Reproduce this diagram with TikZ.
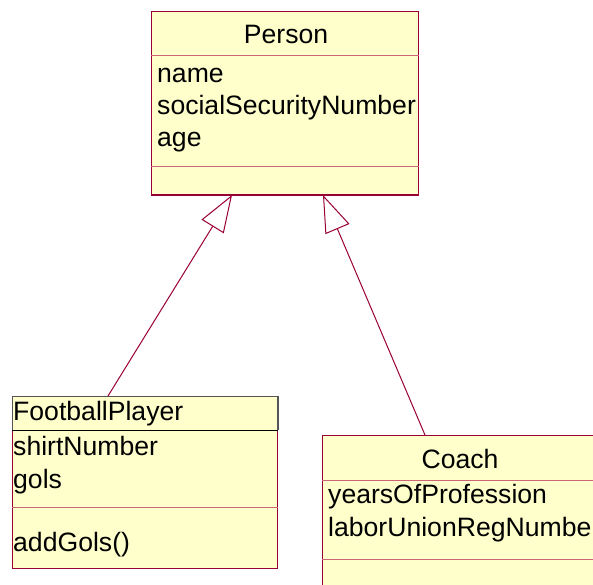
\documentclass[tikz,border=0pt]{standalone}
\usepackage{fontspec}
\setmainfont{Liberation Sans}
\usetikzlibrary{arrows.meta,calc}
\definecolor{umlborder}{HTML}{990033}
\definecolor{umlfill}{HTML}{FFFFCC}
\definecolor{umlsep}{HTML}{CC6677}
\definecolor{umlfocus}{HTML}{555555}

\begin{document}
\begin{tikzpicture}[x=1pt,y=-1pt,
  classbox/.style={draw=umlborder, fill=umlfill, line width=1pt, rectangle,
                   inner sep=0pt, anchor=north west},
  sepline/.style={draw=umlsep, line width=1pt},
  member/.style={anchor=base west, inner sep=0pt, font=\fontsize{26.6}{31}\selectfont},
  classtitle/.style={anchor=base, inner sep=0pt, font=\fontsize{26.6}{31}\selectfont},
  generalization/.style={draw=umlborder, line width=1pt,
                   -{Triangle[open, length=37pt, width=26pt, fill=white]}}]
\useasboundingbox (0,0) rectangle (593,584);
\clip (0,0) rectangle (593,584);

% --- Person -------------------------------------------------------
\node[classbox, minimum width=267pt, minimum height=183pt] (person) at (151,11) {};
\draw[sepline] ($(person.north west)+(0,44)$) -- ($(person.north east)+(0,44)$);
\draw[sepline] ($(person.north west)+(0,155.7)$) -- ($(person.north east)+(0,155.7)$);
\draw[umlborder, line width=2pt] (person.south west) -- (person.south east);
\node[classtitle] (personTitle) at (286,43.3) {Person};
\node[member] (pName) at (157,82.7) {name};
\node[member] (pSsn)  at (157,114.3) {socialSecurityNumber};
\node[member] (pAge)  at (157,146) {age};

% --- FootballPlayer -----------------------------------------------
\node[classbox, minimum width=265pt, minimum height=172pt] (fp) at (12,396) {};
\draw[umlfocus, line width=1pt] (fp.north west) rectangle ($(fp.north west)+(265.7,34)$);
\draw[umlfocus, line width=2pt] ($(fp.north west)+(265.7,0)$) -- ($(fp.north west)+(265.7,34)$);
\draw[black, line width=1pt] ($(fp.north west)+(0,34.5)$) -- ($(fp.north east)+(0,34.5)$);
\draw[sepline] ($(fp.north west)+(0,111)$) -- ($(fp.north east)+(0,111)$);
\node[member] (fpTitle) at (13,420) {FootballPlayer};
\node[member] (fpShirt) at (13,455) {shirtNumber};
\node[member] (fpGols)  at (13,488) {gols};
\node[member] (fpAdd)   at (13,551.7) {addGols()};

% --- Coach --------------------------------------------------------
\node[classbox, minimum width=276pt, minimum height=200pt] (coach) at (322,435) {};
\draw[sepline] ($(coach.north west)+(0,45.7)$) -- ($(coach.north east)+(0,45.7)$);
\draw[sepline] ($(coach.north west)+(0,124)$) -- ($(coach.north east)+(0,124)$);
\node[classtitle] (coachTitle) at (460,468.3) {Coach};
\node[member] (cYears) at (328,503.3) {yearsOfProfession};
\node[member] (cLabor) at (328,536.7) {laborUnionRegNumbe};

% --- Generalizations ----------------------------------------------
\coordinate (fpTop)   at ($(fp.north west)+(96,0)$);
\coordinate (coachTop) at ($(coach.north west)+(103,0)$);
\coordinate (personL) at ($(person.south west)+(81,0)$);
\coordinate (personR) at ($(person.south west)+(172,0)$);
\draw[generalization] (fpTop) -- (personL);
\draw[generalization] (coachTop) -- (personR);
\end{tikzpicture}
\end{document}
